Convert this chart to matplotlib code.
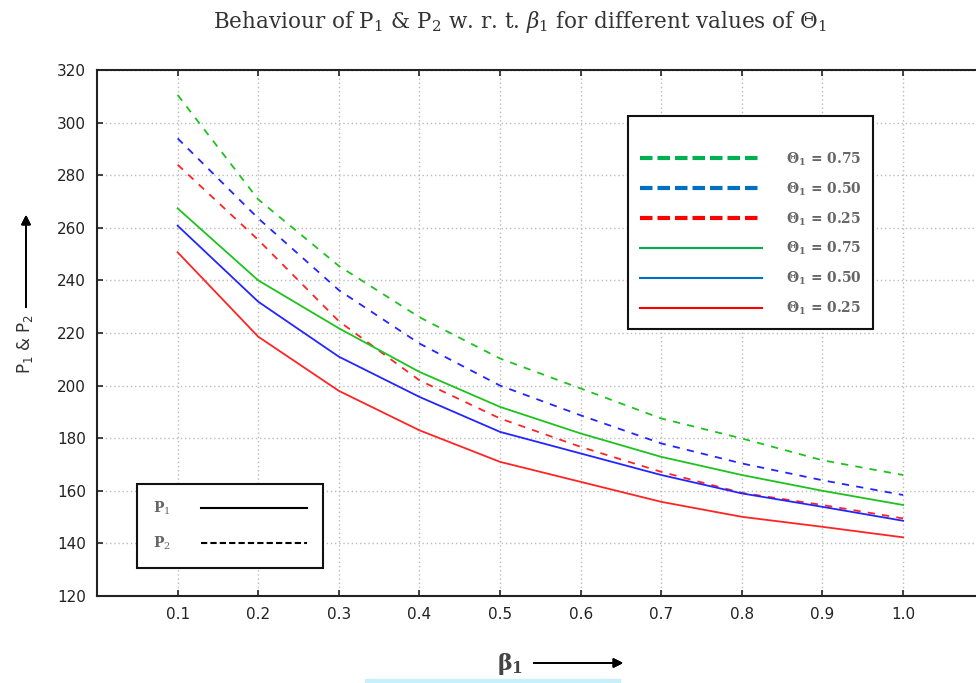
import matplotlib
matplotlib.use('Agg')
import matplotlib.pyplot as plt
from matplotlib.lines import Line2D
from matplotlib.patches import Rectangle

# beta_1 values
beta = [0.1, 0.2, 0.3, 0.4, 0.5, 0.6, 0.7, 0.8, 0.9, 1.0]

# P1 (solid) for theta_1 = 0.75, 0.50, 0.25
p1_075 = [267.4, 240.0, 221.8, 205.2, 191.9, 181.8, 172.9, 166.0, 160.0, 154.6]
p1_050 = [260.8, 231.9, 211.0, 195.7, 182.4, 174.2, 166.0, 159.0, 153.9, 148.6]
p1_025 = [250.7, 218.6, 198.0, 183.0, 171.0, 163.4, 155.8, 150.1, 146.3, 142.3]

# P2 (dashed) for theta_1 = 0.75, 0.50, 0.25
p2_075 = [310.5, 270.8, 245.5, 226.0, 210.3, 198.9, 187.5, 179.9, 171.6, 166.0]
p2_050 = [294.0, 263.6, 236.3, 216.0, 200.0, 188.7, 178.0, 170.4, 164.0, 158.4]
p2_025 = [284.0, 255.4, 224.5, 202.0, 187.5, 176.7, 167.2, 159.2, 154.6, 149.5]

theta_labels = ['0.75', '0.50', '0.25']

plt.rcParams['mathtext.fontset'] = 'dejavuserif'

fig = plt.figure(figsize=(9.76, 6.83), dpi=100)
ax = fig.add_axes([0.0994, 0.1274, 0.9085, 0.7701])

green, blue, red = '#1ec21e', '#2424ff', '#ff2424'
dash = (0, (4, 4))

ax.plot(beta, p2_075, color=green, lw=1.3, ls=dash)
ax.plot(beta, p2_050, color=blue, lw=1.3, ls=dash)
ax.plot(beta, p2_025, color=red, lw=1.3, ls=dash)
ax.plot(beta, p1_075, color=green, lw=1.3)
ax.plot(beta, p1_050, color=blue, lw=1.3)
ax.plot(beta, p1_025, color=red, lw=1.3)

ax.set_xlim(0, 1.1)
ax.set_ylim(120, 320)
ax.set_xticks(beta)
ax.set_xticklabels(['%.1f' % b for b in beta])
ax.set_yticks(range(120, 321, 20))
ax.tick_params(direction='in', labelsize=11, length=4, width=1.2, top=True, pad=8,
               colors='#222222')
ax.grid(True, color='#bbbbbb', ls=(0, (1, 2)), lw=1)
for s in ax.spines.values():
    s.set_linewidth(1.5)
    s.set_color('#222222')

# legend for theta values
leg_colors = ['#00b050', '#0070c0', '#ff0000']
handles = []
labels = []
for c, t in zip(leg_colors, theta_labels):
    handles.append(Line2D([], [], color=c, lw=3, ls=(0, (3, 1.2))))
    labels.append(r'$\mathbf{\Theta_1}$ = ' + t)
for c, t in zip(leg_colors, theta_labels):
    handles.append(Line2D([], [], color=c, lw=1.5))
    labels.append(r'$\mathbf{\Theta_1}$ = ' + t)
leg1 = ax.legend(handles, labels, loc='upper left', bbox_to_anchor=(628/976, 1 - 116/683),
                 bbox_transform=fig.transFigure, frameon=True, fancybox=False,
                 edgecolor='#111111', framealpha=1, handlelength=8.8,
                 labelspacing=0.9, borderpad=0.85, handletextpad=1.7, borderaxespad=0,
                 title=' ', title_fontsize=7,
                 prop={'family': 'DejaVu Serif', 'size': 10, 'weight': 'bold'})
leg1.get_frame().set_linewidth(1.5)
for txt in leg1.get_texts():
    txt.set_color('#666666')
ax.add_artist(leg1)

# legend for P1 / P2
h2 = [Line2D([], [], color='black', lw=1.5),
      Line2D([], [], color='black', lw=1.5, ls=(0, (3, 1.5)))]
leg2 = ax.legend(h2, [r'P$_1$', r'P$_2$'], loc='upper left',
                 bbox_to_anchor=(137/976, 1 - 484/683), bbox_transform=fig.transFigure,
                 frameon=True, fancybox=False, edgecolor='#111111', framealpha=1,
                 markerfirst=False, handlelength=7.6, labelspacing=1.25, borderpad=1.15,
                 handletextpad=2.2, borderaxespad=0,
                 prop={'family': 'DejaVu Serif', 'size': 10, 'weight': 'bold'})
leg2.get_frame().set_linewidth(1.5)
for txt in leg2.get_texts():
    txt.set_color('#666666')

# title
fig.text(520/976, 1 - 22/683,
         r'Behaviour of P$_1$ & P$_2$ w. r. t. $\beta_1$ for different values of $\Theta_1$',
         ha='center', va='center', fontsize=15.5, family='DejaVu Serif', color='#333333')

# y label with arrow
fig.text(25/976, 1 - 344/683, r'P$_1$ & P$_2$', rotation=90, ha='center', va='center',
         fontsize=12, color='#333333', math_fontfamily='dejavusans')
fig.add_artist(plt.annotate('', xy=(26/976, 1 - 212/683), xytext=(26/976, 1 - 310/683),
                            xycoords='figure fraction', textcoords='figure fraction',
                            arrowprops=dict(arrowstyle='-|>', color='black', lw=1.3,
                                            mutation_scale=14)))

# x label with arrow
fig.text(510/976, 1 - 664/683, r'$\mathbf{\beta_1}$', ha='center', va='center', fontsize=16,
         color='#444444')
fig.add_artist(plt.annotate('', xy=(626/976, 1 - 663/683), xytext=(531/976, 1 - 663/683),
                            xycoords='figure fraction', textcoords='figure fraction',
                            arrowprops=dict(arrowstyle='-|>', color='black', lw=1.3,
                                            mutation_scale=14)))

# light strip at the bottom edge of the screenshot
fig.patches.append(Rectangle((365/976, 0), 255/976, 4/683, transform=fig.transFigure,
                             color='#c8f0fa', zorder=0))

fig.savefig('out.png', dpi=100)
